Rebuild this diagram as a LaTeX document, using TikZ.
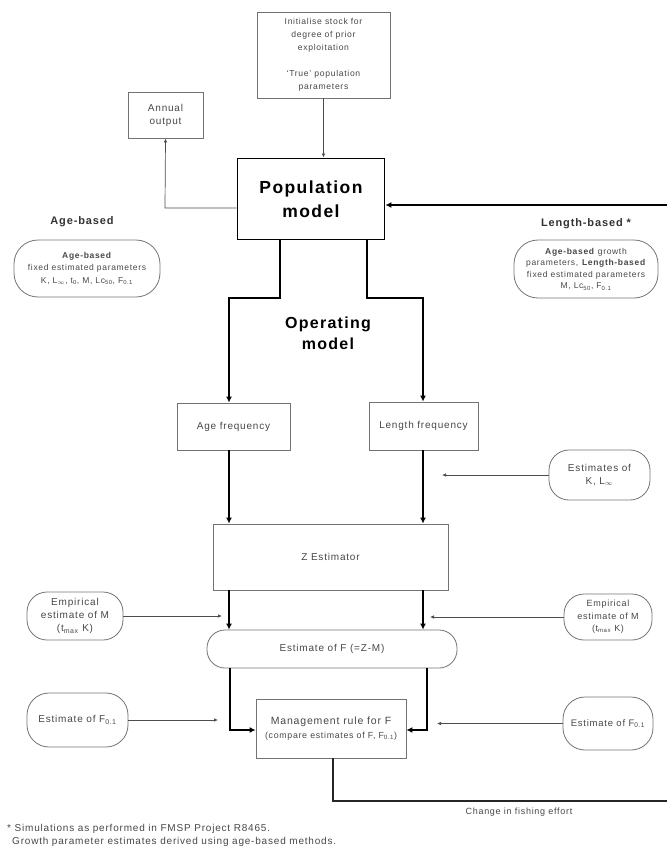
\documentclass[tikz,border=0pt]{standalone}
\usepackage{fontspec}
\setmainfont{Liberation Sans}[LetterSpace=8]
\usetikzlibrary{arrows.meta}
\begin{document}
\begin{tikzpicture}[x=1pt,y=-1pt,
  every node/.style={font=\fontsize{10}{13}\selectfont, text=black!72, align=center, inner sep=1pt},
  sqbox/.style={draw=black!55, line width=0.8pt, minimum width=#1},
  rbox/.style={draw=black!55, line width=0.8pt, rounded corners=18pt},
  thin arrow/.style={draw=black!70, line width=0.7pt, -{Latex[length=4pt,width=3.5pt]}},
  thick arrow/.style={draw=black, line width=1.6pt, -{Latex[length=6pt,width=6pt]}},
  thick line/.style={draw=black!85, line width=1.6pt},
  biglabel/.style={font=\fontsize{17.5}{24}\selectfont\bfseries, text=black},
  sidelabel/.style={font=\fontsize{11}{12}\selectfont\bfseries, text=black!80},
  ovaltext/.style={font=\fontsize{8.5}{12.5}\selectfont}]
\useasboundingbox (0,0) rectangle (667,849);
% boxes
\node[sqbox=133pt, minimum height=86pt, font=\fontsize{8.6}{13}\selectfont] (init) at (323.5,55) {Initialise stock for\\degree of prior\\exploitation\\[13pt]`True' population\\parameters};
\node[sqbox=75pt, minimum height=46pt] (annual) at (165.5,115) {Annual\\output};
\node[draw=black, line width=1.8pt, minimum width=147pt, minimum height=81pt, biglabel] (pop) at (311,199) {Population\\model};
\node[sidelabel] (agelab) at (82,222) {Age-based};
\node[sidelabel] (lenlab) at (586,224) {Length-based *};
\node[rbox, minimum width=146pt, minimum height=57pt, rounded corners=24pt, ovaltext] (ageovl) at (87,268.5) {\textbf{Age-based}\\fixed estimated parameters\\K, L\textsubscript{$\infty$}, t\textsubscript{0}, M, Lc\textsubscript{50}, F\textsubscript{0.1}};
\node[rbox, minimum width=144pt, minimum height=58pt, rounded corners=24pt, ovaltext, font=\fontsize{8.5}{11.5}\selectfont] (lenovl) at (586,269) {\textbf{Age-based} growth\\parameters, \textbf{Length-based}\\fixed estimated parameters\\M, Lc\textsubscript{50}, F\textsubscript{0.1}};
\node[biglabel, font=\fontsize{16}{21}\selectfont\bfseries] (oplab) at (328,333) {Operating\\model};
\node[sqbox=113pt, minimum height=47pt] (agef) at (233.5,426.5) {Age frequency};
\node[sqbox=109pt, minimum height=48pt] (lenf) at (423.5,426) {Length frequency};
\node[rbox, minimum width=101pt, minimum height=50pt, rounded corners=20pt] (estk) at (599.5,475) {Estimates of\\K, L\textsubscript{$\infty$}};
\node[sqbox=235pt, minimum height=66pt] (zest) at (330.5,557) {Z Estimator};
\node[rbox, minimum width=96pt, minimum height=48pt, rounded corners=20pt] (empl) at (75,616) {Empirical\\estimate of M\\(t\textsubscript{max} K)};
\node[rbox, minimum width=88pt, minimum height=46pt, rounded corners=20pt, font=\fontsize{9}{12.5}\selectfont] (empr) at (608,617) {Empirical\\estimate of M\\(t\textsubscript{max} K)};
\node[rbox, minimum width=250pt, minimum height=38pt, rounded corners=18pt] (estf) at (332,649) {Estimate of F (=Z-M)};
\node[sqbox=150pt, minimum height=59pt, font=\fontsize{10.5}{14}\selectfont] (mgmt) at (331,728.5) {Management rule for F\\{\fontsize{8.8}{10}\selectfont (compare estimates of F, F\textsubscript{0.1})}};
\node[rbox, minimum width=101pt, minimum height=54pt, rounded corners=22pt] (f01l) at (77.5,720) {Estimate of F\textsubscript{0.1}};
\node[rbox, minimum width=90pt, minimum height=53pt, rounded corners=22pt, font=\fontsize{9.5}{12}\selectfont] (f01r) at (608,723.5) {Estimate of F\textsubscript{0.1}};
\node[font=\fontsize{9}{11}\selectfont] (change) at (519,812) {Change in fishing effort};
\node[anchor=west, align=left, font=\fontsize{10}{13}\selectfont] (foot) at (6,835) {* Simulations as performed in FMSP Project R8465.\\\hspace{5pt}Growth parameter estimates derived using age-based methods.};
\coordinate (rtop) at (667,205);
\coordinate (rbot) at (667,801);
% connectors
\draw[thin arrow] (init.south) -- (init.south |- pop.north);
\draw[thin arrow] (pop.west |- 0,208) -- (165,208) -- (annual.south);
\draw[thick arrow, line width=1.4pt] (rtop) -- (pop.east |- rtop);
\draw[thick arrow] (pop.south -| 280,0) -- (280,298) -- (229,298) -- (agef.north -| 229,0);
\draw[thick arrow] (pop.south -| 367,0) -- (367,298) -- (423,298) -- (lenf.north -| 423,0);
\draw[thick arrow] (agef.south -| 229,0) -- (zest.north -| 229,0);
\draw[thick arrow] (lenf.south -| 423,0) -- (zest.north -| 423,0);
\draw[thick arrow] (zest.south -| 229,0) -- (estf.north -| 229,0);
\draw[thick arrow] (zest.south -| 423,0) -- (estf.north -| 423,0);
\draw[thin arrow] (estk.west) -- (estk.west -| 442,0);
\draw[thin arrow] (empl.east) -- (empl.east -| 222,0);
\draw[thin arrow] (empr.west) -- (empr.west -| 430,0);
\draw[thick arrow] (estf.south -| 230,0) -- (230,730) -- (mgmt.west |- 0,730);
\draw[thick arrow] (estf.south -| 427,0) -- (427,730) -- (mgmt.east |- 0,730);
\draw[thin arrow] (f01l.east) -- (f01l.east -| 218,0);
\draw[thin arrow] (f01r.west) -- (f01r.west -| 437,0);
\draw[thick line, line width=1.4pt] (mgmt.south -| 333,0) -- (333,801) -- (rbot);
\end{tikzpicture}
\end{document}
